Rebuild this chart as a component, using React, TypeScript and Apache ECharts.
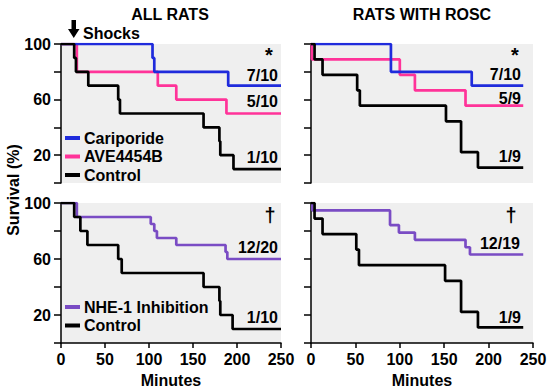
import React, { useEffect, useRef } from "react";
import * as echarts from "echarts";

// ---------- Data (minutes, survival %) ----------
const allCariporide: number[][] = [[0, 100], [104, 90], [106, 80], [190, 70], [250, 70]];
const allAVE: number[][] = [[0, 100], [18, 80], [110, 70], [131, 60], [188, 50], [250, 50]];
const allControlTop: number[][] = [[0, 100], [15, 90], [17, 80], [31, 70], [65, 60], [67, 50], [162, 40], [180, 30], [181, 20], [196, 10], [250, 10]];
const roscCariporide: number[][] = [[0, 100], [90, 80], [181, 70], [239, 70]];
const roscAVE: number[][] = [[0, 100], [1, 88.9], [100, 77.8], [117, 66.7], [174, 55.6], [239, 55.6]];
const roscControlTop: number[][] = [[0, 100], [4, 88.9], [13, 77.8], [52, 66.7], [55, 55.6], [152, 44.4], [169, 22.2], [188, 11.1], [239, 11.1]];
const allNHE: number[][] = [[0, 100], [18, 90], [102, 85], [106, 80], [109, 75], [131, 70], [187, 65], [189, 60], [250, 60]];
const allControlBottom: number[][] = [[0, 100], [15, 90], [22, 80], [30, 70], [65, 60], [69, 50], [162, 40], [180, 30], [181, 20], [195, 10], [250, 10]];
const roscNHE: number[][] = [[0, 100], [1.5, 94.7], [89, 84.2], [99, 78.9], [117, 73.7], [174, 68.4], [179, 63.2], [239, 63.2]];
const roscControlBottom: number[][] = [[0, 100], [4, 88.9], [13, 77.8], [51, 66.7], [54, 55.6], [151, 44.4], [169, 22.2], [188, 11.1], [239, 11.1]];

const yLabelValues = [100, 60, 20];
const panelTitles = ["ALL RATS", "RATS WITH ROSC"];
const fractionsTL = ["7/10", "5/10", "1/10"];
const fractionsTR = ["7/10", "5/9", "1/9"];
const fractionsBL = ["12/20", "1/10"];
const fractionsBR = ["12/19", "1/9"];

const BLUE = "#1f2bdc";
const PINK = "#ff3399";
const BLACK = "#000000";
const PURPLE = "#7a4cc4";
const BG = "#efefef";
const FONT = "'Liberation Sans', Arial, sans-serif";
const BOLD16 = `bold 16px ${FONT}`;

export default function App() {
  const ref = useRef<HTMLDivElement>(null);
  useEffect(() => {
    document.body.style.margin = "0";
    if (!ref.current) return;
    const chart = echarts.init(ref.current, undefined, { renderer: "svg" });

    const grids = [
      { left: 61, top: 44, width: 220, height: 139 },
      { left: 311, top: 44, width: 222, height: 139 },
      { left: 61, top: 203, width: 220, height: 140 },
      { left: 311, top: 203, width: 222, height: 140 },
    ].map((g) => ({
      ...g,
      show: true,
      backgroundColor: BG,
      borderWidth: 0,
      outerBoundsMode: "none",
    }));

    const xAxes = [0, 1, 2, 3].map((i) => ({
      type: "value",
      gridIndex: i,
      min: 0,
      max: 250,
      interval: 50,
      show: i >= 2,
      name: "Minutes",
      nameLocation: "middle",
      nameGap: 29,
      nameTextStyle: { fontFamily: FONT, fontWeight: "bold", fontSize: 16, color: "#000" },
      axisLine: { show: true, lineStyle: { color: "#000", width: 1.5 } },
      axisTick: { show: true, length: 5, lineStyle: { color: "#000", width: 1.5 } },
      axisLabel: { fontFamily: FONT, fontWeight: "bold", fontSize: 16, color: "#000", margin: 8 },
      splitLine: { show: false },
    }));

    const yAxes = [0, 1, 2, 3].map((i) => ({
      type: "value",
      gridIndex: i,
      min: 0,
      max: 100,
      interval: 20,
      axisLine: { show: true, lineStyle: { color: "#000", width: 1.5 } },
      axisTick: { show: true, length: 7, lineStyle: { color: "#000", width: 1.5 } },
      axisLabel: {
        show: i % 2 === 0,
        fontFamily: FONT,
        fontWeight: "bold",
        fontSize: 16,
        color: "#000",
        margin: 10,
        formatter: (v: number) => (yLabelValues.includes(v) ? String(v) : ""),
      },
      splitLine: { show: false },
    }));

    const mk = (name: string, data: number[][], color: string, idx: number) => ({
      type: "line",
      name,
      data,
      step: "end",
      xAxisIndex: idx,
      yAxisIndex: idx,
      symbol: "none",
      color,
      lineStyle: { color, width: 2.7 },
    });

    const series = [
      mk("AVE4454B", allAVE, PINK, 0),
      mk("Cariporide", allCariporide, BLUE, 0),
      mk("Control", allControlTop, BLACK, 0),
      mk("AVE4454B", roscAVE, PINK, 1),
      mk("Cariporide", roscCariporide, BLUE, 1),
      mk("Control", roscControlTop, BLACK, 1),
      mk("NHE-1 Inhibition", allNHE, PURPLE, 2),
      mk("Control", allControlBottom, BLACK, 2),
      mk("NHE-1 Inhibition", roscNHE, PURPLE, 3),
      mk("Control", roscControlBottom, BLACK, 3),
    ];

    const legendCommon = {
      orient: "vertical",
      left: 65,
      padding: 0,
      itemWidth: 15,
      itemHeight: 4,
      itemGap: 2.5,
      icon: "rect",
      selectedMode: false,
      textStyle: { fontFamily: FONT, fontWeight: "bold", fontSize: 16, color: "#000", lineHeight: 16, padding: [0, 0, 0, -1] },
    };

    const txt = (text: string, x: number, y: number, align = "right", font = BOLD16) => ({
      type: "text",
      silent: true,
      style: { text, x, y, font, fill: "#000", textAlign: align, textVerticalAlign: "middle", align, verticalAlign: "middle" },
    });

    const STAR = `bold 20px ${FONT}`;
    const graphic: any[] = [
      txt(panelTitles[0], 170, 14, "center"),
      txt(panelTitles[1], 422, 14, "center"),
      txt("Shocks", 83, 33, "left"),
      {
        type: "polygon",
        silent: true,
        shape: { points: [[71.5, 20], [76, 20], [76, 29], [79.5, 29], [73.75, 38], [68, 29], [71.5, 29]] },
        style: { fill: "#000" },
      },
      {
        type: "text",
        silent: true,
        x: 13,
        y: 190,
        rotation: Math.PI / 2,
        style: { text: "Survival (%)", x: 0, y: 0, font: BOLD16, fill: "#000", textAlign: "center", textVerticalAlign: "middle", align: "center", verticalAlign: "middle" },
      },
      // top-left
      txt("*", 269, 55, "center", STAR),
      txt(fractionsTL[0], 278, 75),
      txt(fractionsTL[1], 278, 101),
      txt(fractionsTL[2], 278, 157),
      // top-right
      txt("*", 515, 55, "center", STAR),
      txt(fractionsTR[0], 521, 74),
      txt(fractionsTR[1], 521, 98),
      txt(fractionsTR[2], 521, 156),
      // bottom-left
      txt("†", 270, 215, "center", `bold 20px ${FONT}`),
      txt(fractionsBL[0], 278, 247),
      txt(fractionsBL[1], 278, 317),
      // bottom-right
      txt("†", 511, 215, "center", `bold 20px ${FONT}`),
      txt(fractionsBR[0], 520, 243),
      txt(fractionsBR[1], 521, 317),
    ];

    chart.setOption({
      animation: false,
      backgroundColor: "#fff",
      grid: grids,
      xAxis: xAxes,
      yAxis: yAxes,
      legend: [
        { ...legendCommon, top: 130, data: ["Cariporide", "AVE4454B", "Control"] },
        { ...legendCommon, top: 299, data: ["NHE-1 Inhibition", "Control"] },
      ],
      series,
      graphic,
    } as any);

    return () => chart.dispose();
  }, []);
  return <div ref={ref} style={{ width: 550, height: 392 }} />;
}
